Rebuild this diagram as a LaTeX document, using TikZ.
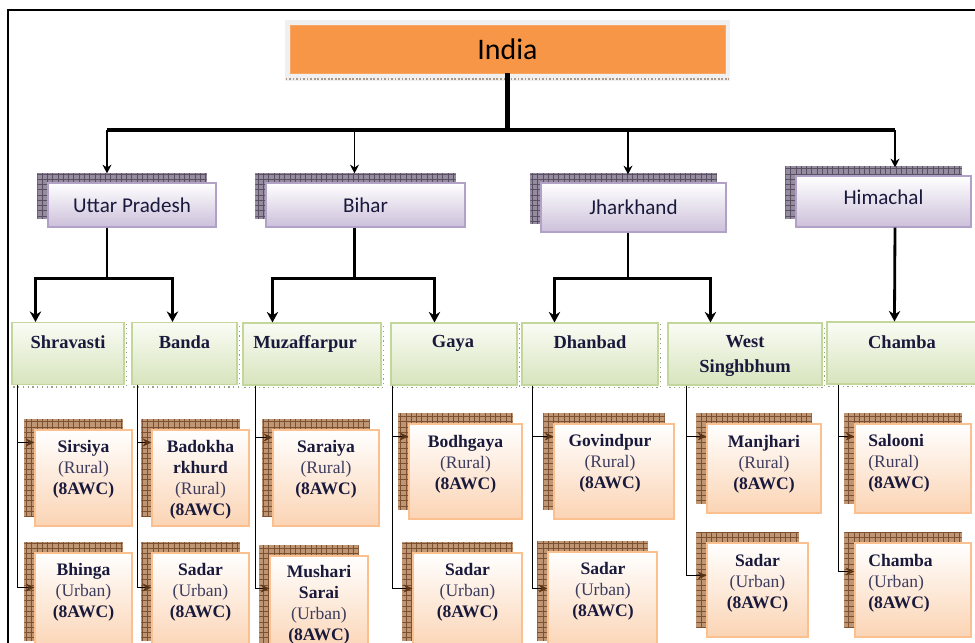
\documentclass[tikz,border=0pt]{standalone}
\usepackage{fontspec}
\setmainfont{Liberation Serif}
\newfontfamily\calibrifont{Carlito}
\usepackage{tikz}
\usetikzlibrary{arrows.meta, backgrounds, patterns}
\definecolor{indiaorange}{RGB}{247, 150, 70}
\definecolor{statelow}{RGB}{204, 192, 218}
\definecolor{stateedge}{RGB}{178, 161, 199}
\definecolor{stateshade}{RGB}{150, 140, 160}
\definecolor{stategrid}{RGB}{90, 80, 100}
\definecolor{disttop}{RGB}{250, 252, 245}
\definecolor{distlow}{RGB}{215, 228, 189}
\definecolor{distedge}{RGB}{195, 214, 155}
\definecolor{distdash}{RGB}{150, 160, 130}
\definecolor{blocklow}{RGB}{251, 212, 180}
\definecolor{blockedge}{RGB}{250, 192, 144}
\definecolor{blockshade}{RGB}{190, 150, 115}
\definecolor{blockgrid}{RGB}{125, 80, 50}
\definecolor{arrowbrown}{RGB}{90, 50, 20}
\definecolor{navy}{RGB}{25, 25, 60}
\definecolor{ruralgray}{RGB}{60, 60, 95}
\newcommand{\pxu}{0.02cm}

\begin{document}
\begin{tikzpicture}[x=0.02cm, y=-0.02cm,
  indiabox/.style={fill=indiaorange, draw=indiaorange!85!white, inner sep=0pt,
    font=\calibrifont\fontsize{17}{20}\selectfont},
  statebox/.style={top color=white, bottom color=statelow, draw=stateedge, line width=0.6pt,
    inner sep=0pt, text=navy, font=\calibrifont\fontsize{12}{14}\selectfont},
  stateshadow/.style={fill=stateshade, postaction={pattern=grid, pattern color=stategrid}},
  distbox/.style={top color=disttop, bottom color=distlow, draw=distedge, line width=0.6pt,
    inner sep=0pt, minimum height=62*\pxu},
  disttext/.style={anchor=north, inner sep=0pt, align=center, text=navy,
    font=\bfseries\fontsize{10.5}{14}\selectfont},
  distshadow/.style={draw=distdash, dotted, line width=0.7pt},
  blockbox/.style={top color=white, bottom color=blocklow, draw=blockedge, line width=0.6pt,
    inner sep=0pt},
  blockshadow/.style={fill=blockshade, postaction={pattern=grid, pattern color=blockgrid}},
  blocktext/.style={anchor=north, inner sep=0pt, align=center, text=navy,
    font=\fontsize{10}{12}\selectfont},
  trunk/.style={line width=2.3pt},
  statearrow/.style={line width=1.1pt, -{Stealth[length=5pt, width=5pt]}},
  distarrow/.style={line width=1.6pt, -{Stealth[length=6pt, width=6.5pt]}},
  blockarrow/.style={line width=1pt, -{Stealth[length=5pt, width=4.5pt, color=arrowbrown]}}]

  \useasboundingbox (0, 0) rectangle (975, 643);
  \clip (0, 0) rectangle (975, 643);

  \draw[line width=1.2pt] (8, 643) -- (8, 10) -- (975, 10);

  % top
  \node[indiabox, minimum width=435*\pxu, minimum height=48*\pxu] (india) at (507.5, 49) {India};

  % states
  \node[statebox, minimum width=168*\pxu, minimum height=44*\pxu] (up) at (132, 205) {Uttar Pradesh};
  \node[statebox, minimum width=199*\pxu, minimum height=44*\pxu] (bihar) at (365.5, 205) {Bihar};
  \node[statebox, minimum width=185*\pxu, minimum height=49*\pxu] (jharkhand) at (633.5, 207.5) {Jharkhand};
  \node[statebox, minimum width=175*\pxu, minimum height=51*\pxu] (himachal) at (883.5, 201.5) {\raisebox{0.18cm}{Himachal}};

  % districts
  \node[distbox, minimum width=112*\pxu] (shravasti) at (68, 353.5) {};
  \node[disttext] (shravasti-t) at (68, 335) {Shravasti};
  \node[distbox, minimum width=105*\pxu] (banda) at (184.5, 353.5) {};
  \node[disttext] (banda-t) at (184.5, 335) {Banda};
  \node[distbox, minimum width=138*\pxu] (muzaffarpur) at (312, 354) {};
  \node[disttext] (muzaffarpur-t) at (305, 335) {Muzaffarpur};
  \node[distbox, minimum width=126*\pxu] (gaya) at (454, 354) {};
  \node[disttext] (gaya-t) at (453, 335) {Gaya};
  \node[distbox, minimum width=136*\pxu] (dhanbad) at (590, 354) {};
  \node[disttext] (dhanbad-t) at (590, 335) {Dhanbad};
  \node[distbox, minimum width=154*\pxu] (westsinghbhum) at (745, 354) {};
  \node[disttext] (westsinghbhum-t) at (745, 335) {West\\Singhbhum};
  \node[distbox, minimum width=158*\pxu] (chamba) at (906, 353) {};
  \node[disttext] (chamba-t) at (902, 335) {Chamba};

  % blocks
  \node[blockbox, minimum width=97*\pxu, minimum height=96*\pxu] (sirsiya) at (83.5, 478) {};
  \node[blocktext] (sirsiya-t) at (83.5, 440) {\textbf{Sirsiya}\\\textcolor{ruralgray}{(Rural)}\\\textbf{(8AWC)}};
  \node[blockbox, minimum width=97*\pxu, minimum height=97*\pxu] (bhinga) at (83.5, 601.5) {};
  \node[blocktext] (bhinga-t) at (83.5, 563) {\textbf{Bhinga}\\\textcolor{ruralgray}{(Urban)}\\\textbf{(8AWC)}};
  \node[blockbox, minimum width=97*\pxu, minimum height=96*\pxu] (badokharkhurd) at (200.5, 478) {};
  \node[blocktext] (badokharkhurd-t) at (200.5, 440) {\textbf{Badokha}\\\textbf{rkhurd}\hspace{7.2pt}\\\textcolor{ruralgray}{(Rural)}\\\textbf{(8AWC)}};
  \node[blockbox, minimum width=97*\pxu, minimum height=97*\pxu] (sadar-banda) at (200.5, 601.5) {};
  \node[blocktext] (sadar-banda-t) at (200.5, 563) {\textbf{Sadar}\\\textcolor{ruralgray}{(Urban)}\\\textbf{(8AWC)}};
  \node[blockbox, minimum width=106*\pxu, minimum height=96*\pxu] (saraiya) at (326, 478) {};
  \node[blocktext] (saraiya-t) at (326, 440) {\textbf{Saraiya}\\\textcolor{ruralgray}{(Rural)}\\\textbf{(8AWC)}};
  \node[blockbox, minimum width=98*\pxu, minimum height=97*\pxu] (musharisarai) at (319, 604.5) {};
  \node[blocktext] (musharisarai-t) at (319, 565) {\textbf{Mushari}\\\textbf{Sarai}\\\textcolor{ruralgray}{(Urban)}\\\textbf{(8AWC)}};
  \node[blockbox, minimum width=113*\pxu, minimum height=95*\pxu] (bodhgaya) at (465.5, 471.5) {};
  \node[blocktext] (bodhgaya-t) at (465.5, 435) {\textbf{Bodhgaya}\\\textcolor{ruralgray}{(Rural)}\\\textbf{(8AWC)}};
  \node[blockbox, minimum width=109*\pxu, minimum height=97*\pxu] (sadar-gaya) at (467.5, 601.5) {};
  \node[blocktext] (sadar-gaya-t) at (467.5, 563) {\textbf{Sadar}\\\textcolor{ruralgray}{(Urban)}\\\textbf{(8AWC)}};
  \node[blockbox, minimum width=120*\pxu, minimum height=95*\pxu] (govindpur) at (614, 471.5) {};
  \node[blocktext] (govindpur-t) at (610, 434) {\textbf{Govindpur}\\\textcolor{ruralgray}{(Rural)}\\\textbf{(8AWC)}};
  \node[blockbox, minimum width=109*\pxu, minimum height=98*\pxu] (sadar-dhanbad) at (602.5, 601) {};
  \node[blocktext] (sadar-dhanbad-t) at (603, 562) {\textbf{Sadar}\\\textcolor{ruralgray}{(Urban)}\\\textbf{(8AWC)}};
  \node[blockbox, minimum width=114*\pxu, minimum height=89*\pxu] (manjhari) at (764, 468.5) {};
  \node[blocktext] (manjhari-t) at (764, 435) {\textbf{Manjhari}\\\textcolor{ruralgray}{(Rural)}\\\textbf{(8AWC)}};
  \node[blockbox, minimum width=101*\pxu, minimum height=94*\pxu] (sadar-ws) at (757.5, 590) {};
  \node[blocktext] (sadar-ws-t) at (757.5, 554) {\textbf{Sadar}\\\textcolor{ruralgray}{(Urban)}\\\textbf{(8AWC)}};
  \node[blockbox, minimum width=116*\pxu, minimum height=89*\pxu] (salooni) at (913, 468.5) {};
  \node[blocktext, anchor=north west, align=left] (salooni-t) at (868, 434) {\textbf{Salooni}\\\textcolor{ruralgray}{(Rural)}\\\textbf{(8AWC)}};
  \node[blockbox, minimum width=116*\pxu, minimum height=94*\pxu] (chamba-b) at (913, 590) {};
  \node[blocktext, anchor=north west, align=left] (chamba-b-t) at (868, 554) {\textbf{Chamba}\\\textcolor{ruralgray}{(Urban)}\\\textbf{(8AWC)}};

  % shadows behind the boxes
  \begin{scope}[on background layer]
    \fill[black!6] ([shift={(-5, -5)}]india.north west) rectangle ([shift={(5, 8)}]india.south east);
    \draw[densely dotted, arrowbrown!50, line width=1pt] ([shift={(-4, 6)}]india.south west) -- ([shift={(4, 6)}]india.south east);
    \foreach \s in {up, bihar, jharkhand, himachal}
      \fill[stateshadow] ([shift={(-10, -9)}]\s.south west) rectangle ([shift={(-10, -9)}]\s.north east);
    \foreach \d in {shravasti, banda, muzaffarpur, gaya, dhanbad, westsinghbhum, chamba}
      \draw[distshadow] ([shift={(2, 2)}]\d.south west) -| ([shift={(2, 2)}]\d.north east);
    \foreach \b in {sirsiya, bhinga, badokharkhurd, sadar-banda, saraiya, musharisarai, bodhgaya,
        sadar-gaya, govindpur, sadar-dhanbad, manjhari, sadar-ws, salooni, chamba-b}
      \fill[blockshadow] ([shift={(-10, -10)}]\b.south west) rectangle ([shift={(-10, -10)}]\b.north east);
  \end{scope}

  % india to states
  \coordinate (busl) at (107, 130);
  \coordinate (busr) at (895, 130);
  \draw[trunk] (india.south) -- (india.south |- busl);
  \draw[trunk] (busl) -- (busr);
  \draw[statearrow] (busl) -- ([shift={(-25, -9)}]up.north);
  \draw[statearrow] ([shift={(-11, -53)}]bihar.north) -- ([shift={(-11, -9)}]bihar.north);
  \draw[statearrow] ([shift={(-5.5, -53)}]jharkhand.north) -- ([shift={(-5.5, -8)}]jharkhand.north);
  \draw[statearrow] (busr) -- ([shift={(11.5, -8)}]himachal.north);

  % states to districts
  \draw[distarrow] ([xshift=-25*\pxu]up.south) -- ++(0, 51) -| ([xshift=24*\pxu]shravasti.north west);
  \draw[distarrow] ([xshift=-25*\pxu]up.south) -- ++(0, 51) -| ([xshift=41*\pxu]banda.north west);
  \draw[distarrow] ([xshift=-11*\pxu]bihar.south) -- ++(0, 51) -| ([xshift=30*\pxu]muzaffarpur.north west);
  \draw[distarrow] ([xshift=-11*\pxu]bihar.south) -- ++(0, 51) -| ([xshift=44*\pxu]gaya.north west);
  \draw[distarrow] ([xshift=-5.5*\pxu]jharkhand.south) -- ++(0, 46) -| ([xshift=33*\pxu]dhanbad.north west);
  \draw[distarrow] ([xshift=-5.5*\pxu]jharkhand.south) -- ++(0, 46) -| ([xshift=43*\pxu]westsinghbhum.north west);
  \draw[distarrow] ([xshift=11.5*\pxu]himachal.south) -- ([xshift=68*\pxu]chamba.north west);

  % districts to blocks
  \draw[blockarrow] ([xshift=6*\pxu]shravasti.south west) |- ([yshift=-13*\pxu]sirsiya.north west);
  \draw[blockarrow] ([xshift=6*\pxu]shravasti.south west) |- ([yshift=-35*\pxu]bhinga.north west);
  \draw[blockarrow] ([xshift=6*\pxu]banda.south west) |- ([yshift=-13*\pxu]badokharkhurd.north west);
  \draw[blockarrow] ([xshift=6*\pxu]banda.south west) |- ([yshift=-35*\pxu]sadar-banda.north west);
  \draw[blockarrow] ([xshift=13*\pxu]muzaffarpur.south west) |- ([yshift=-8*\pxu]saraiya.north west);
  \draw[blockarrow] ([xshift=13*\pxu]muzaffarpur.south west) |- ([yshift=-33*\pxu]musharisarai.north west);
  \draw[blockarrow] ([xshift=2*\pxu]gaya.south west) |- ([yshift=-13*\pxu]bodhgaya.north west);
  \draw[blockarrow] ([xshift=2*\pxu]gaya.south west) |- ([yshift=-36*\pxu]sadar-gaya.north west);
  \draw[blockarrow] ([xshift=11*\pxu]dhanbad.south west) |- ([yshift=-13*\pxu]govindpur.north west);
  \draw[blockarrow] ([xshift=11*\pxu]dhanbad.south west) |- ([yshift=-37*\pxu]sadar-dhanbad.north west);
  \draw[blockarrow] ([xshift=19*\pxu]westsinghbhum.south west) |- ([yshift=-13*\pxu]manjhari.north west);
  \draw[blockarrow] ([xshift=19*\pxu]westsinghbhum.south west) |- ([yshift=-33*\pxu]sadar-ws.north west);
  \draw[blockarrow] ([xshift=12*\pxu]chamba.south west) |- ([yshift=-13*\pxu]salooni.north west);
  \draw[blockarrow] ([xshift=12*\pxu]chamba.south west) |- ([yshift=-29*\pxu]chamba-b.north west);

\end{tikzpicture}
\end{document}
